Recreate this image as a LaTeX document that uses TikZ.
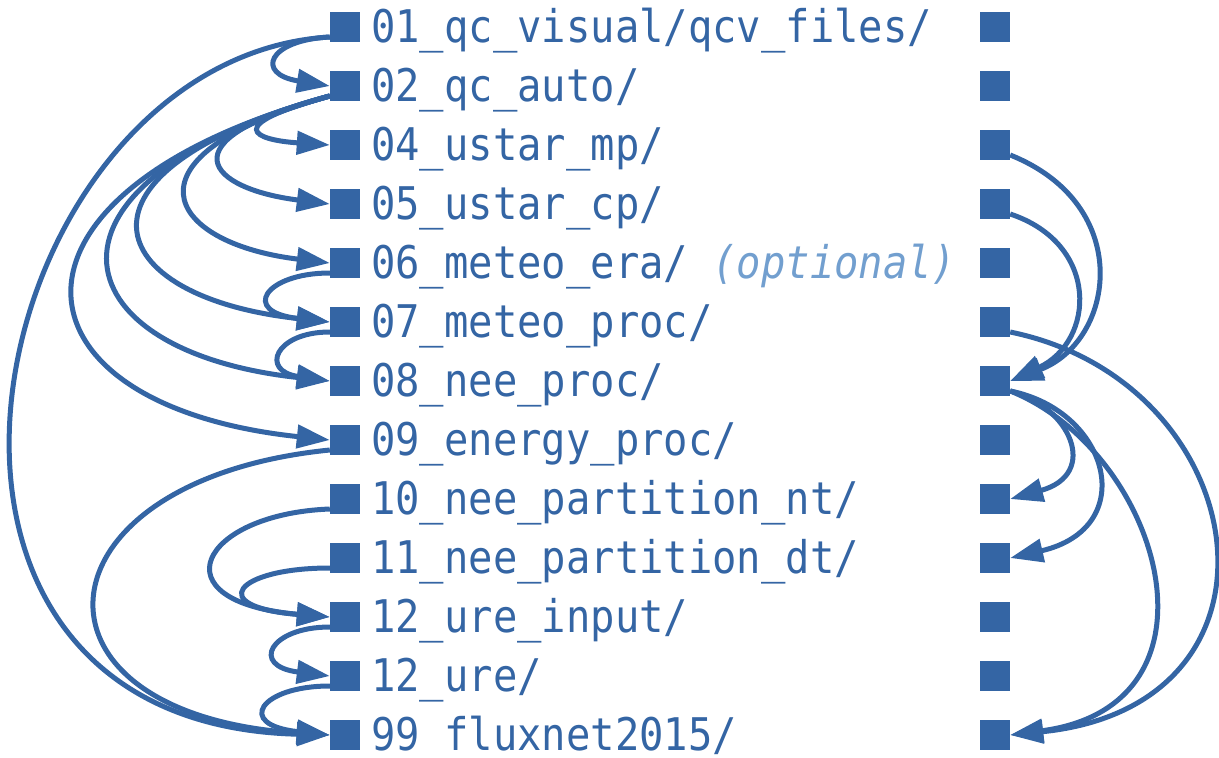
\documentclass[tikz,border=0pt]{standalone}
\usepackage{fontspec}
\usepackage{tikz}
\usetikzlibrary{arrows.meta}
\newfontfamily\dirfont[FakeStretch=0.9]{DejaVu Sans Mono}
\definecolor{dirblue}{RGB}{52,101,164}
\definecolor{optblue}{RGB}{114,159,207}

\begin{document}
\begin{tikzpicture}[x=1pt,y=-1pt,
        folder/.style={fill=dirblue,minimum size=30pt,inner sep=0pt},
        dirname/.style={anchor=base west,inner sep=0pt,text=dirblue,
          font=\dirfont\fontsize{45}{54}\selectfont},
        dep/.style={draw=dirblue,line width=5pt,-{Triangle[length=33pt,width=23pt]}}]
        \useasboundingbox (0,0) rectangle (1219,758);

        % draw folders, one row each (left box, name, right box)
        \foreach \i/\n/\lbl in {0/01/{01\_qc\_visual/qcv\_files/},
                                1/02/{02\_qc\_auto/},
                                2/04/{04\_ustar\_mp/},
                                3/05/{05\_ustar\_cp/},
                                4/06/{06\_meteo\_era/ {\itshape\color{optblue}(optional)}},
                                5/07/{07\_meteo\_proc/},
                                6/08/{08\_nee\_proc/},
                                7/09/{09\_energy\_proc/},
                                8/10/{10\_nee\_partition\_nt/},
                                9/11/{11\_nee\_partition\_dt/},
                                10/12i/{12\_ure\_input/},
                                11/12u/{12\_ure/},
                                12/99/{99\_fluxnet2015/}}{
            \node[folder] (l\n) at (345,27+59*\i) {};
            \node[folder] (r\n) at (995,27+59*\i) {};
            \node[dirname] (t\n) at (371,42+59*\i) {\lbl};
        }

        % dependencies on the left
        \draw[dep] ([yshift=-10pt]l01.west) .. controls +(-62,3) and +(-75,-12) .. (l02.west);
        \draw[dep] ([yshift=-10pt]l01.west) .. controls +(-345,20) and +(-490,-12) .. (l99.west);
        \draw[dep] ([yshift=-10pt]l02.west) .. controls +(-110,30) and +(-75,-5) .. (l04.west);
        \draw[dep] ([yshift=-10pt]l02.west) .. controls +(-170,45) and +(-120,-15) .. (l05.west);
        \draw[dep] ([yshift=-10pt]l02.west) .. controls +(-215,60) and +(-165,-20) .. (l06.west);
        \draw[dep] ([yshift=-10pt]l02.west) .. controls +(-275,75) and +(-230,-25) .. (l07.west);
        \draw[dep] ([yshift=-10pt]l02.west) .. controls +(-310,85) and +(-275,-30) .. (l08.west);
        \draw[dep] ([yshift=-10pt]l02.west) .. controls +(-350,95) and +(-330,-35) .. (l09.west);
        \draw[dep] ([yshift=-10pt]l06.west) .. controls +(-65,0) and +(-90,-10) .. (l07.west);
        \draw[dep] ([yshift=-10pt]l07.west) .. controls +(-55,0) and +(-70,-10) .. (l08.west);
        \draw[dep] ([yshift=-10pt]l09.west) .. controls +(-300,30) and +(-320,-20) .. (l99.west);
        \draw[dep] ([yshift=-10pt]l10.west) .. controls +(-130,5) and +(-175,-15) .. (l12i.west);
        \draw[dep] ([yshift=-10pt]l11.west) .. controls +(-95,0) and +(-125,-10) .. (l12i.west);
        \draw[dep] ([yshift=-10pt]l12i.west) .. controls +(-60,0) and +(-80,-10) .. (l12u.west);
        \draw[dep] ([yshift=-10pt]l12u.west) .. controls +(-70,0) and +(-95,-10) .. (l99.west);

        % dependencies on the right
        \draw[dep] ([yshift=-10pt]r04.east) .. controls +(125,50) and +(105,-40) .. (r08.east);
        \draw[dep] ([yshift=-10pt]r05.east) .. controls +(90,30) and +(85,-40) .. (r08.east);
        \draw[dep] ([yshift=-10pt]r07.east) .. controls +(245,50) and +(295,-30) .. (r99.east);
        \draw[dep] ([yshift=-10pt]r08.east) .. controls +(60,15) and +(90,-25) .. (r10.east);
        \draw[dep] ([yshift=-10pt]r08.east) .. controls +(100,20) and +(130,-30) .. (r11.east);
        \draw[dep] ([yshift=-10pt]r08.east) .. controls +(150,60) and +(225,-30) .. (r99.east);
    \end{tikzpicture}
\end{document}
